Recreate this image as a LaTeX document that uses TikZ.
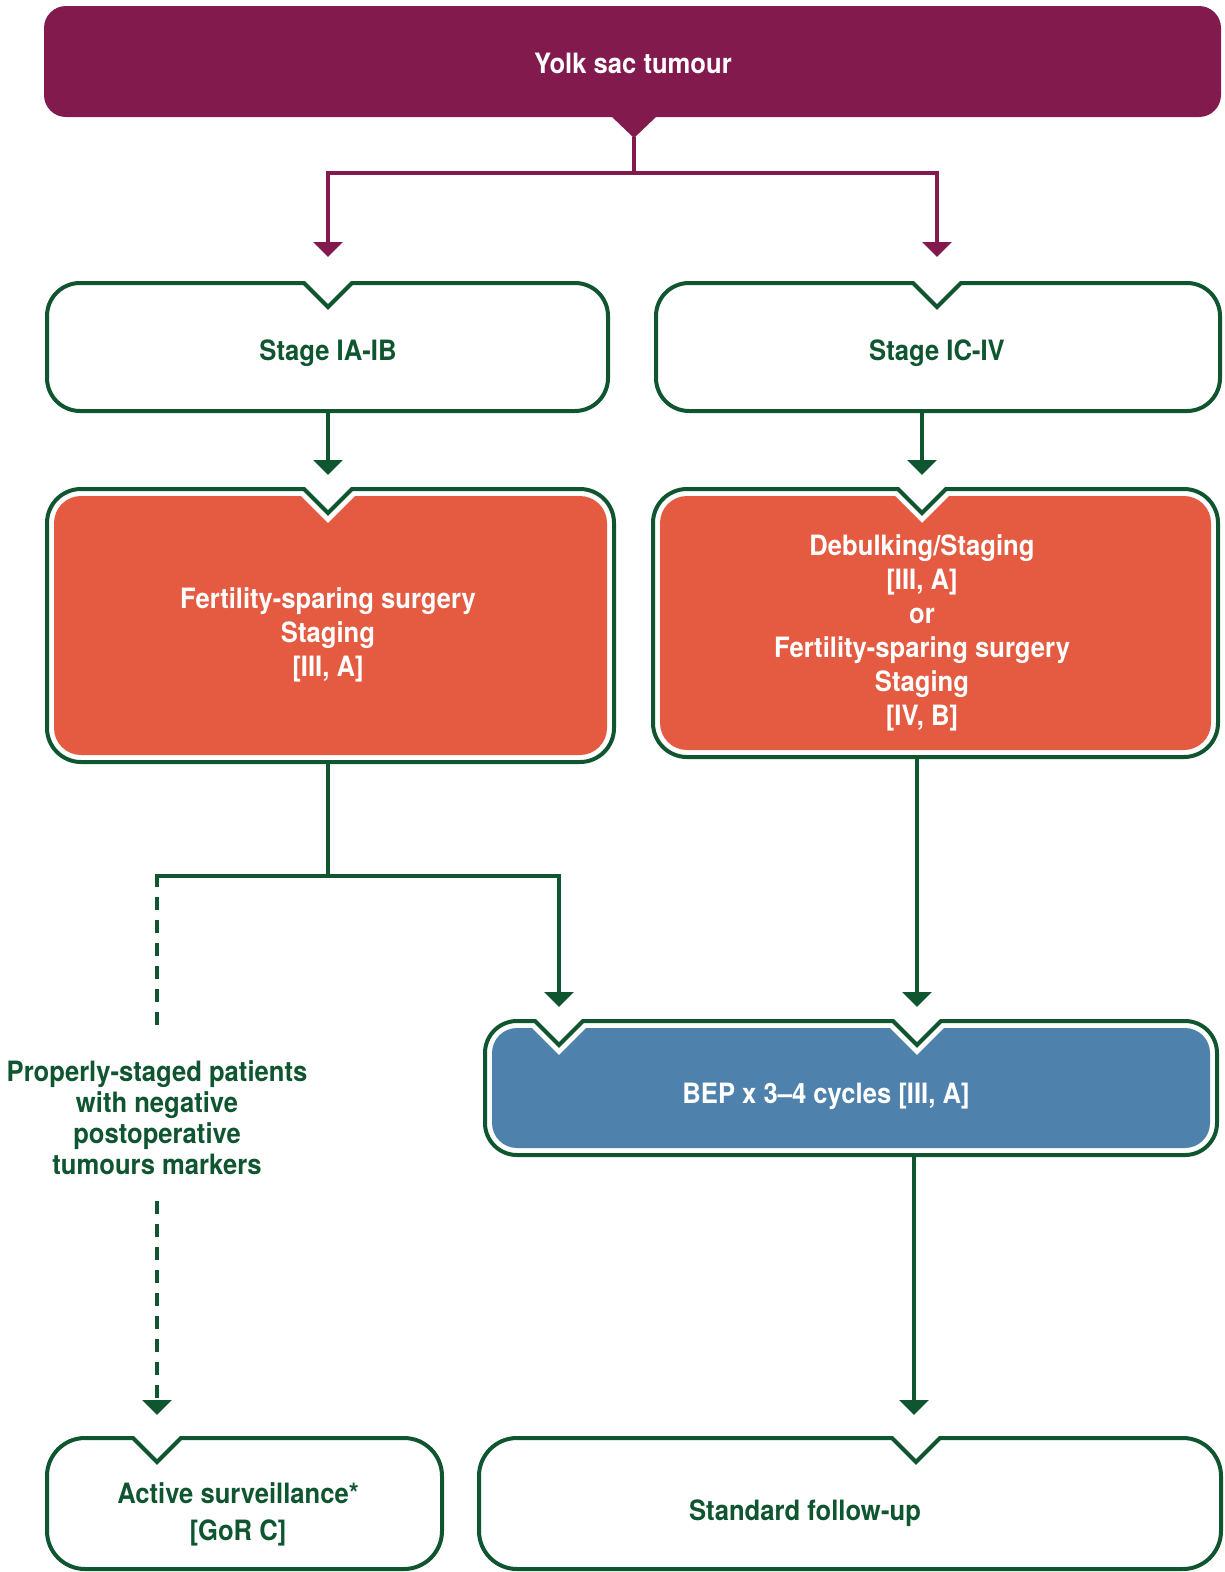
\documentclass[tikz,border=0pt]{standalone}
\usepackage{fontspec}
\setmainfont{TeX Gyre Heros}[FakeStretch=0.915]
\usetikzlibrary{arrows.meta}
\definecolor{purp}{HTML}{821A4D}
\definecolor{dgreen}{HTML}{0F5530}
\definecolor{orng}{HTML}{E45B42}
\definecolor{blu}{HTML}{4F81AD}
% #1 x1, #2 top, #3 x2, #4 bottom, #5 radius, #6 notch half-width, #7 notch x list
\newcommand\nbox[7]{(#1,#4-#5) -- (#1,#2+#5) arc[start angle=180,end angle=270,radius=#5]
  \foreach \nx in {#7}{ -- (\nx-#6,#2) -- (\nx,#2+#6) -- (\nx+#6,#2) }
  -- (#3-#5,#2) arc[start angle=270,end angle=360,radius=#5]
  -- (#3,#4-#5) arc[start angle=0,end angle=90,radius=#5]
  -- (#1+#5,#4) arc[start angle=90,end angle=180,radius=#5] -- cycle}
\tikzset{
  gline/.style={draw=dgreen, line width=4pt},
  pline/.style={draw=purp, line width=4pt},
  garrow/.style={gline, -{Triangle[width=29pt,length=15pt]}},
  parrow/.style={pline, -{Triangle[width=29pt,length=15pt]}},
  dline/.style={gline, dash pattern=on 13pt off 10pt},
  boxline/.style={draw=dgreen, line width=4pt, line join=miter},
  gtext/.style={text=dgreen, font=\bfseries\fontsize{28}{34}\selectfont, align=center, inner sep=0pt},
  wtext/.style={text=white, font=\bfseries\fontsize{28}{34}\selectfont, align=center, inner sep=0pt},
}
\begin{document}
\begin{tikzpicture}[x=1pt,y=-1pt]
\useasboundingbox (0,0) rectangle (1225,1572);
% title
\fill[purp, rounded corners=22pt] (44,6) rectangle (1221,117);
\fill[purp] (611,116) -- (634,138) -- (657,116) -- cycle;
\node[wtext] (yolk) at (633,63) {Yolk sac tumour};
% stage boxes
\draw[boxline] \nbox{47}{283}{608}{411}{33}{24}{328};
\draw[boxline] \nbox{656}{283}{1220}{411}{33}{24}{937};
\node[gtext] (s1) at (328,353) {Stage IA-IB};
\node[gtext] (s2) at (937,353) {Stage IC-IV};
% orange boxes
\draw[boxline] \nbox{47}{489}{614}{762}{34}{24}{328};
\fill[orng] \nbox{54}{496}{607}{755}{27}{27}{328};
\draw[boxline] \nbox{653}{489}{1218}{757}{34}{24}{922};
\fill[orng] \nbox{660}{496}{1211}{750}{27}{27}{922};
\node[wtext] (o1) at (328,635) {Fertility-sparing surgery\\Staging\\{[III, A]}};
\node[wtext] (o2) at (922,633) {Debulking/Staging\\{[III, A]}\\or\\Fertility-sparing surgery\\Staging\\{[IV, B]}};
% blue box
\draw[boxline] \nbox{485}{1021}{1217}{1155}{32}{24}{559,917};
\fill[blu] \nbox{492}{1028}{1210}{1148}{25}{27}{559,917};
\node[wtext] (bep) at (826,1096) {BEP x 3–4 cycles [III, A]};
% bottom boxes
\draw[boxline] \nbox{47}{1438}{442}{1569}{38}{24}{157};
\draw[boxline] \nbox{479}{1438}{1221}{1569}{38}{24}{916};
\node[gtext, font=\bfseries\fontsize{28}{37}\selectfont] (act) at (238,1514) {Active surveillance*\\{[GoR C]}};
\node[gtext] (std) at (805,1513) {Standard follow-up};
% side label
\node[gtext, font=\bfseries\fontsize{28}{31}\selectfont] (prop) at (157,1118) {Properly-staged patients\\with negative\\postoperative\\tumours markers};
% connector coordinates
\coordinate (yolkN) at (634,137);
\coordinate (split1) at (634,173);
\coordinate (s1in) at (328,257);
\coordinate (s2in) at (937,257);
\coordinate (s1out) at (328,411);
\coordinate (s2out) at (922,411);
\coordinate (o1in) at (328,475);
\coordinate (o2in) at (922,475);
\coordinate (o1out) at (328,762);
\coordinate (o2out) at (917,757);
\coordinate (split2) at (328,876);
\coordinate (bepinL) at (559,1007);
\coordinate (bepinR) at (917,1007);
\coordinate (dashtop) at (157,876);
\coordinate (dashmid) at (157,1031);
\coordinate (dashlow) at (157,1201);
\coordinate (actin) at (157,1415);
\coordinate (bepout) at (914,1155);
\coordinate (stdin) at (914,1415);
% connectors
\draw[pline] (yolkN) -- (split1);
\draw[parrow] (split1) -| (s1in);
\draw[parrow] (split1) -| (s2in);
\draw[garrow] (s1out) -- (o1in);
\draw[garrow] (s2out) -- (o2in);
\draw[gline] (o1out) -- (split2);
\draw[garrow] (split2) -| (bepinL);
\draw[gline] (split2) -- ([xshift=-2pt]dashtop);
\draw[dline] ([yshift=2pt]dashtop) -- (dashmid);
\draw[dline, -{Triangle[width=29pt,length=15pt]}] (dashlow) -- (actin);
\draw[garrow] (o2out) -- (bepinR);
\draw[garrow] (bepout) -- (stdin);
\end{tikzpicture}
\end{document}
